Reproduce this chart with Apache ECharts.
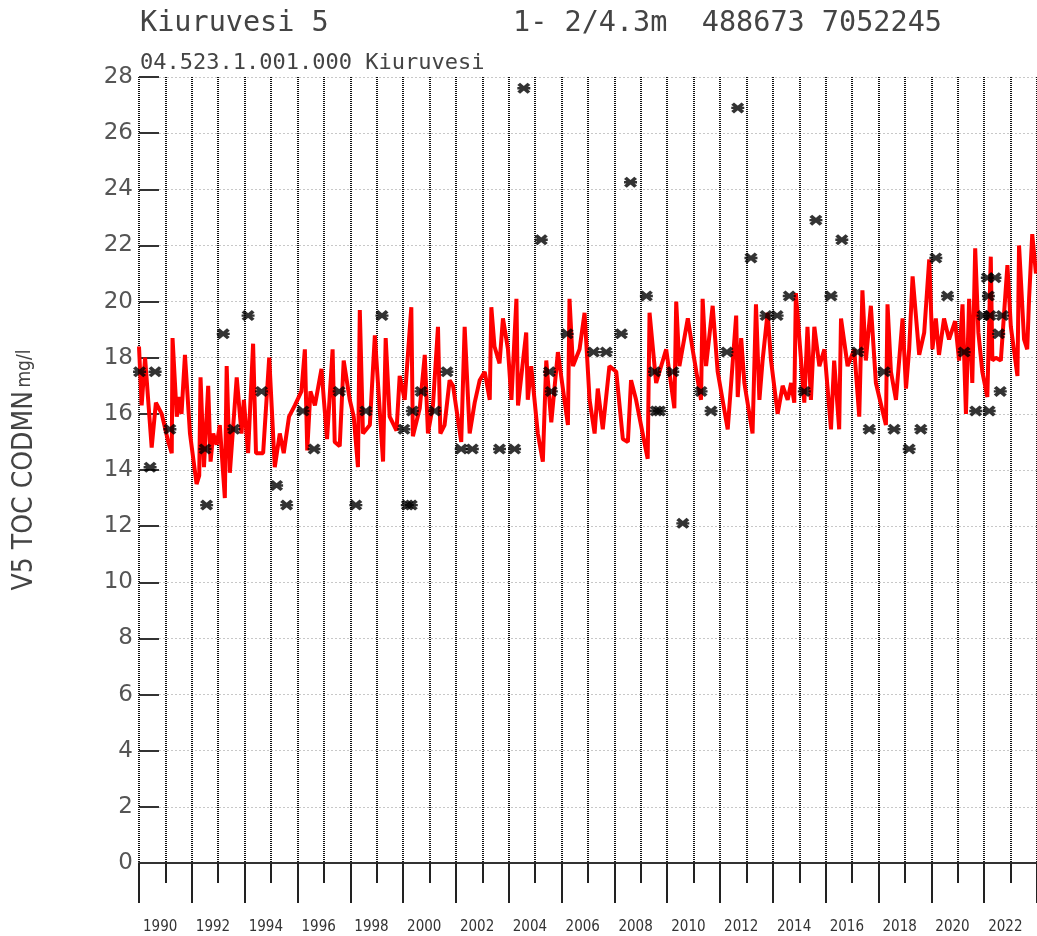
<!DOCTYPE html>
<html>
<head>
<meta charset="utf-8">
<title>Kiuruvesi 5</title>
<script src="https://cdn.jsdelivr.net/npm/echarts@6/dist/echarts.min.js"></script>
<style>
  html, body { margin: 0; padding: 0; background: #fff; }
  #main { width: 1037px; height: 936px; }
</style>
</head>
<body>
<div id="main"></div>
<script>
// y-axis ticks (mg/l)
var yTicks = [0, 2, 4, 6, 8, 10, 12, 14, 16, 18, 20, 22, 24, 26, 28];
// year labels under the axis
var yearLabels = [1990, 1992, 1994, 1996, 1998, 2000, 2002, 2004, 2006, 2008, 2010,
                  2012, 2014, 2016, 2018, 2020, 2022];

// red line (model), decimal year / value
var lineYears = [
  1990.00, 1990.10, 1990.23, 1990.48, 1990.64, 1990.86,
  1991.11, 1991.24, 1991.27, 1991.43, 1991.52, 1991.61, 1991.74, 1991.93,
  1992.18, 1992.28, 1992.33, 1992.46, 1992.62, 1992.71, 1992.81, 1992.94,
  1993.06, 1993.25, 1993.32, 1993.44, 1993.70, 1993.88, 1993.97,
  1994.13, 1994.32, 1994.43, 1994.70, 1994.93,
  1995.14, 1995.33, 1995.48, 1995.68, 1995.90,
  1996.15, 1996.28, 1996.37, 1996.49, 1996.66, 1996.91,
  1997.00, 1997.12, 1997.33, 1997.41, 1997.60, 1997.75, 1997.98,
  1998.13, 1998.29, 1998.36, 1998.48, 1998.74, 1998.93,
  1999.24, 1999.34, 1999.49, 1999.75, 1999.87,
  2000.06, 2000.31, 2000.37, 2000.63, 2000.82, 2000.94,
  2001.13, 2001.32, 2001.41, 2001.57, 2001.76, 2001.89,
  2002.20, 2002.33, 2002.52, 2002.71, 2002.90,
  2003.09, 2003.28, 2003.34, 2003.46, 2003.65, 2003.78, 2003.97,
  2004.10, 2004.29, 2004.35, 2004.66, 2004.72, 2004.85,
  2005.10, 2005.29, 2005.42, 2005.61, 2005.86,
  2006.02, 2006.24, 2006.30, 2006.43, 2006.68, 2006.87,
  2007.06, 2007.25, 2007.37, 2007.56, 2007.81,
  2008.07, 2008.32, 2008.51, 2008.63, 2008.82,
  2009.07, 2009.26, 2009.33, 2009.58, 2009.96,
  2010.27, 2010.34, 2010.46, 2010.78, 2010.96,
  2011.28, 2011.34, 2011.47, 2011.72, 2011.91,
  2012.29, 2012.61, 2012.67, 2012.80, 2012.92,
  2013.23, 2013.36, 2013.49, 2013.61, 2013.80, 2013.93,
  2014.18, 2014.37, 2014.56, 2014.69, 2014.81, 2014.87,
  2015.19, 2015.31, 2015.44, 2015.57, 2015.76, 2015.95,
  2016.20, 2016.32, 2016.51, 2016.58, 2016.83,
  2017.08, 2017.27, 2017.39, 2017.52, 2017.71, 2017.90,
  2018.28, 2018.34, 2018.47, 2018.66, 2018.91,
  2019.04, 2019.16, 2019.29, 2019.54, 2019.73, 2019.92,
  2020.04, 2020.17, 2020.29, 2020.48, 2020.67, 2020.90,
  2021.05, 2021.18, 2021.31, 2021.43, 2021.55, 2021.66, 2021.78, 2021.93,
  2022.12, 2022.25, 2022.31, 2022.44, 2022.63, 2022.88,
  2023.01, 2023.26, 2023.32, 2023.51, 2023.63, 2023.70, 2023.82, 2023.96
];
var lineValues = [
  18.4, 16.3, 18.0, 14.8, 16.4, 16.0,
  15.0, 14.6, 18.7, 15.9, 16.6, 16.0, 18.1, 15.3,
  13.5, 13.8, 17.3, 14.1, 17.0, 14.3, 15.3, 14.9,
  15.6, 13.0, 17.7, 13.9, 17.3, 15.3, 16.5,
  14.6, 18.5, 14.6, 14.6, 18.0,
  14.1, 15.3, 14.6, 15.9, 16.3,
  16.8, 18.3, 14.7, 16.8, 16.3, 17.6,
  16.5, 15.1, 18.3, 15.0, 14.85, 17.9, 16.5,
  15.9, 14.1, 19.7, 15.3, 15.6, 18.8,
  14.3, 18.7, 15.9, 15.4, 17.35,
  16.5, 19.8, 15.2, 16.2, 18.1, 15.3,
  16.3, 19.1, 15.3, 15.6, 17.2, 17.0,
  15.0, 19.1, 15.3, 16.4, 17.2,
  17.5, 16.5, 19.8, 18.4, 17.8, 19.4, 18.3,
  16.5, 20.1, 16.3, 18.9, 16.5, 17.7,
  15.3, 14.3, 17.9, 15.7, 18.2,
  17.1, 15.6, 20.1, 17.7, 18.3, 19.6,
  16.5, 15.3, 16.9, 15.45, 17.7,
  17.5, 15.1, 15.0, 17.2, 16.5,
  15.3, 14.4, 19.6, 17.1, 18.3,
  16.2, 20.0, 17.7, 19.4, 18.3,
  16.5, 20.1, 17.7, 19.85, 17.5,
  15.45, 19.5, 16.6, 18.7, 17.1,
  15.3, 19.9, 16.5, 17.9, 19.6, 17.9,
  16.0, 17.0, 16.5, 17.1, 16.4, 20.3,
  16.4, 19.1, 16.5, 19.1, 17.7, 18.3,
  15.45, 17.9, 15.45, 19.4, 17.7,
  18.3, 15.9, 20.4, 17.9, 19.85, 17.1,
  15.6, 19.9, 17.5, 16.5, 19.4,
  16.9, 18.3, 20.9, 18.1, 18.9, 21.5,
  18.3, 19.4, 18.1, 19.4, 18.65, 19.3,
  17.9, 19.9, 16.0, 20.1, 17.1, 21.9, 18.9, 17.5,
  16.6, 21.6, 17.9, 18.0, 17.9, 21.3,
  19.1, 17.35, 22.0, 18.65, 18.3, 20.1, 22.4, 21.0
];

// black asterisks (observations)
var obsYears = [
  1990.02, 1990.42, 1990.61, 1991.17, 1992.50, 1992.56, 1993.19, 1993.59,
  1994.13, 1994.64, 1995.21, 1995.59, 1996.21, 1996.63, 1997.58, 1998.21,
  1998.59, 1999.20, 2000.03, 2000.16, 2000.31, 2000.35, 2000.68, 2001.20,
  2001.66, 2002.20, 2002.62, 2003.65, 2004.22, 2004.57, 2005.23, 2005.54,
  2005.61, 2006.21, 2007.21, 2007.69, 2008.26, 2008.61, 2009.21, 2009.52,
  2009.58, 2009.71, 2010.21, 2010.59, 2011.28, 2011.66, 2012.26, 2012.67,
  2013.17, 2013.74, 2014.16, 2014.62, 2015.19, 2015.63, 2016.20, 2016.61,
  2017.21, 2017.65, 2018.21, 2018.59, 2019.16, 2019.60, 2020.17, 2020.61,
  2021.24, 2021.68, 2021.96, 2022.12, 2022.16, 2022.19, 2022.22, 2022.41,
  2022.55, 2022.61, 2022.69
];
var obsValues = [
  17.5, 14.1, 17.5, 15.45, 14.75, 12.75, 18.85, 15.45,
  19.5, 16.8, 13.45, 12.75, 16.1, 14.75, 16.8, 12.75,
  16.1, 19.5, 15.45, 12.75, 12.75, 16.1, 16.8, 16.1,
  17.5, 14.75, 14.75, 14.75, 14.75, 27.6, 22.2, 17.5,
  16.8, 18.85, 18.2, 18.2, 18.85, 24.25, 20.2, 17.5,
  16.1, 16.1, 17.5, 12.1, 16.8, 16.1, 18.2, 26.9,
  21.55, 19.5, 19.5, 20.2, 16.8, 22.9, 20.2, 22.2,
  18.2, 15.45, 17.5, 15.45, 14.75, 15.45, 21.55, 20.2,
  18.2, 16.1, 19.5, 20.85, 20.2, 16.1, 19.5, 20.85,
  18.85, 16.8, 19.5
];

var linePts = lineYears.map(function (y, i) { return [y, lineValues[i]]; });
var obsPts = obsYears.map(function (y, i) { return [y, obsValues[i]]; });

// bold asterisk: two thick diagonals and a horizontal bar
var star = 'path://M0,2.1L2.1,0L10,7.9L7.9,10Z M7.9,0L10,2.1L2.1,10L0,7.9Z M0,3.9L10,3.9L10,6.1L0,6.1Z';

var dotted = { color: '#111', width: 2, type: [1, 1] };

var chart = echarts.init(document.getElementById('main'), null, { renderer: 'canvas' });

var option = {
    animation: false,
    backgroundColor: '#fff',
    title: [
        {
            text: 'Kiuruvesi 5',
            left: 140, top: 9, padding: 0,
            textStyle: { fontFamily: 'DejaVu Sans Mono', fontSize: 28.5, fontWeight: 'normal', color: '#444' }
        },
        {
            text: '1- 2/4.3m  488673 7052245',
            left: 513, top: 9, padding: 0,
            textStyle: { fontFamily: 'DejaVu Sans Mono', fontSize: 28.5, fontWeight: 'normal', color: '#444' }
        },
        {
            text: '04.523.1.001.000 Kiuruvesi',
            left: 140, top: 52, padding: 0,
            textStyle: { fontFamily: 'DejaVu Sans Mono', fontSize: 22, fontWeight: 'normal', color: '#444' }
        }
    ],
    grid: { left: 139, right: 0, top: 77, bottom: 73 },
    xAxis: {
        type: 'value',
        min: 1990,
        max: 2024,
        interval: 2,
        axisLine: { show: true, onZero: true, lineStyle: { color: '#333', width: 2 } },
        axisTick: { show: true, length: 40, lineStyle: { color: '#222', width: 2 } },
        minorTick: { show: true, splitNumber: 2, length: 20, lineStyle: { color: '#222', width: 2 } },
        splitLine: { show: true, lineStyle: dotted },
        minorSplitLine: { show: true, lineStyle: dotted },
        axisLabel: {
            margin: 57,
            align: 'left',
            padding: [0, 0, 0, 4],
            fontFamily: 'DejaVu Sans Condensed',
            fontSize: 15,
            color: '#333',
            showMaxLabel: false,
            formatter: function (v) {
                return yearLabels.indexOf(v) >= 0 ? String(v) : '';
            }
        }
    },
    yAxis: {
        type: 'value',
        min: yTicks[0],
        max: yTicks[yTicks.length - 1],
        interval: 2,
        name: '{a|V5 TOC CODMN} {b|mg/l}',
        nameLocation: 'middle',
        nameRotate: 90,
        nameGap: 100,
        nameTextStyle: {
            color: '#444',
            rich: {
                a: { fontFamily: 'Liberation Sans Narrow, DejaVu Sans Condensed', fontSize: 28, color: '#444' },
                b: { fontFamily: 'Liberation Sans Narrow, DejaVu Sans Condensed', fontSize: 19, color: '#444' }
            }
        },
        axisLine: { show: false },
        axisTick: { show: true, inside: true, length: 20, lineStyle: { color: '#333', width: 2 } },
        splitLine: { show: true, lineStyle: { color: '#c8c8c8', width: 1, type: [2, 2] } },
        axisLabel: {
            margin: 6,
            fontFamily: 'DejaVu Sans',
            fontSize: 23,
            color: '#555'
        }
    },
    series: [
        {
            name: 'malli',
            type: 'line',
            data: linePts,
            showSymbol: false,
            lineStyle: { color: '#ff0000', width: 4 },
            z: 2
        },
        {
            name: 'havainnot',
            type: 'scatter',
            data: obsPts,
            symbol: star,
            symbolSize: [13, 11],
            itemStyle: { color: '#000' },
            z: 3
        }
    ]
};
chart.setOption(option);
</script>
</body>
</html>
